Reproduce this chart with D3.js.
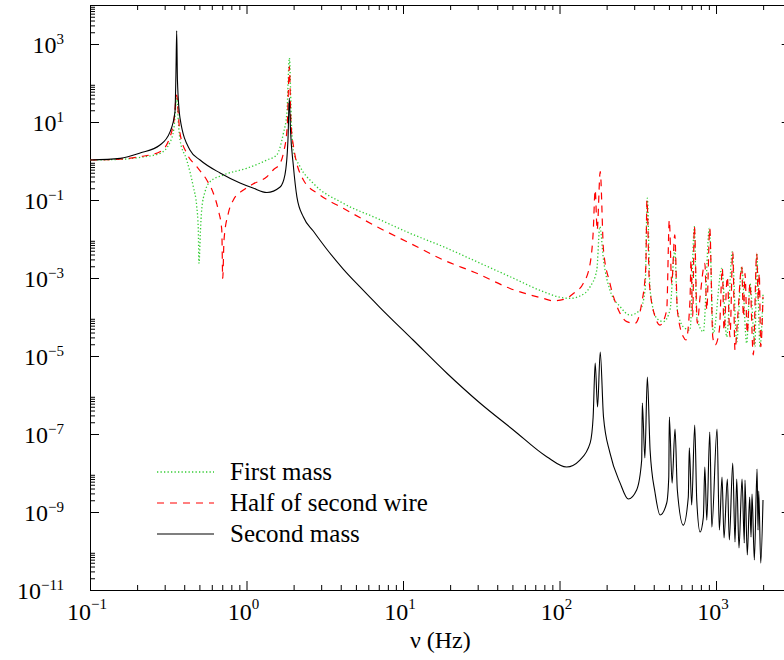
<!DOCTYPE html>
<html>
<head>
<meta charset="utf-8">
<title></title>
<style>
body { margin: 0; background: #fff; }
</style>
</head>
<body>
<svg id="chart" width="784" height="660"></svg>
<script src="https://d3js.org/d3.v7.min.js" charset="utf-8"></script>
<script>
// values: [frequency (Hz), amplitude]
var firstMass = [
  [0.1,1.06],[0.155,1.10],[0.209,1.24],[0.28,1.57],[0.325,3.07],[0.344,7.0],[0.358,41],[0.368,8.4],
  [0.376,3.45],[0.415,1.06],[0.457,0.219],[0.481,0.0673],[0.492,0.017],[0.497,0.00238],[0.508,0.017],
  [0.517,0.0554],[0.543,0.163],[0.585,0.294],[0.711,0.438],[1.0,0.65],[1.35,1.06],[1.56,1.43],
  [1.72,5.13],[1.81,16.7],[1.88,438],[1.94,7.57],[1.99,1.91],[2.20,0.714],[2.67,0.268],[4.15,0.0822],
  [6.80,0.034],[11.1,0.014],[18.1,0.00635],[29.6,0.00262],[48.3,0.00108],[78.8,4.45e-4],[101,3.2e-4],
  [117,3.0e-4],[135,3.45e-4],[157,6.0e-4],[173,0.0016],[181,0.0207],[191,0.0029],[210,4.9e-4],
  [244,1.84e-4],[282,1.12e-4],[327,1.51e-4],[352,4.9e-4],[364,0.111],[379,4.9e-4],[418,9.3e-5],
  [461,7.6e-5],[508,1.51e-4],[545,0.0052],[566,1.51e-4],[618,5.6e-5],[682,4.6e-5],[727,0.0207],
  [753,1.02e-4],[830,4.2e-5],[906,0.0188],[961,3.8e-5],[1088,0.00177],[1170,3.1e-5],[1270,0.0047],
  [1356,2.3e-5],[1459,0.00195],[1570,2.1e-5],[1648,7.3e-4],[1774,1.73e-5],[1820,0.0043],[1910,1.73e-5],
  [1996,3.7e-4]
];

var halfWire = [
  [0.1,1.06],[0.155,1.12],[0.209,1.29],[0.28,1.73],[0.325,4.2],[0.344,11.2],[0.358,49],[0.368,12.7],
  [0.376,5.13],[0.415,1.58],[0.481,0.714],[0.557,0.326],[0.614,0.149],[0.66,0.0554],[0.695,0.017],
  [0.705,9.8e-4],[0.718,0.0094],[0.765,0.0456],[0.824,0.1],[0.955,0.18],[1.10,0.257],[1.35,0.396],
  [1.48,0.588],[1.64,0.873],[1.72,1.58],[1.82,7.57],[1.88,262],[1.92,11.2],[1.99,2.57],[2.31,0.326],
  [2.95,0.134],[4.15,0.0612],[6.80,0.0207],[11.1,0.00776],[18.1,0.0029],[29.6,0.00132],[48.3,5.4e-4],
  [78.8,3.0e-4],[91.3,2.6e-4],[111,3.0e-4],[123,4.05e-4],[142,7.3e-4],[157,0.00238],[164,0.014],
  [169,0.18],[174,0.017],[182,0.532],[191,0.0052],[210,7.3e-4],[238,1.51e-4],[269,7.6e-5],[304,6.9e-5],
  [335,2.25e-4],[356,0.00195],[362,0.1],[375,7.3e-4],[408,1.02e-4],[439,6.2e-5],[484,1.51e-4],
  [503,0.0307],[521,7.3e-4],[545,0.0127],[566,1.51e-4],[618,3.1e-5],[643,2.57e-5],[682,2.73e-4],
  [692,0.0029],[709,1.02e-4],[727,0.0207],[759,6.9e-5],[791,3.3e-4],[848,0.00238],[873,1.51e-4],
  [912,0.0188],[953,3.1e-5],[986,1.91e-5],[1050,4.6e-5],[1097,0.00177],[1125,4.6e-5],[1181,0.00108],
  [1228,3.1e-5],[1279,0.0047],[1322,1.43e-5],[1376,1.02e-4],[1459,0.00195],[1496,1.02e-4],
  [1531,0.00132],[1584,3.8e-5],[1648,7.3e-4],[1730,1.06e-5],[1820,0.0043],[1862,2.73e-4],
  [1889,0.00132],[1931,1.73e-5],[1996,3.3e-4]
];

var secondMass = [
  [0.1,1.06],[0.156,1.17],[0.209,1.6],[0.28,2.57],[0.324,5.5],[0.349,18],[0.354,160],[0.358,2190],
  [0.362,119],[0.376,12.6],[0.435,1.91],[0.505,1.06],[0.678,0.492],[0.909,0.273],[1.10,0.203],
  [1.35,0.156],[1.64,0.215],[1.76,0.44],[1.84,3.45],[1.877,41],[1.91,6.2],[1.99,0.79],[2.10,0.119],
  [2.31,0.0366],[2.67,0.016],[3.25,0.00555],[4.15,0.0017],[5.31,5.9e-4],[7.13,1.75e-4],[11.6,2.57e-5],
  [19.0,3.67e-6],[31.0,6.24e-7],[50.7,1.27e-7],[82.8,2.62e-8],[111,1.43e-8],[135,2.15e-8],[157,5.9e-8],
  [164,2.73e-7],[169,6.6e-6],[175,4.92e-7],[182,1.27e-5],[191,2.73e-7],[210,3.26e-8],[244,5.5e-9],
  [275,2.15e-9],[311,3.67e-9],[335,2.15e-8],[338,6.24e-7],[351,2.43e-8],[364,2.9e-6],[379,3.9e-8],
  [408,3.07e-9],[439,8.4e-10],[484,1.7e-9],[499,7.9e-9],[503,2.73e-7],[524,5.5e-9],[547,1.34e-7],
  [566,3.67e-9],[618,4.6e-10],[665,2.43e-9],[675,4.4e-8],[699,1.51e-9],[731,1.7e-7],[753,2.03e-9],
  [791,3.07e-10],[830,7.4e-10],[848,1.43e-8],[873,6.2e-10],[912,1.12e-7],[940,4.1e-10],[1015,1.34e-7],
  [1050,3.45e-10],[1092,7.9e-9],[1125,2.15e-10],[1181,7.0e-9],[1216,1.91e-10],[1279,1.8e-8],
  [1322,1.7e-10],[1356,7.0e-9],[1402,1.19e-10],[1466,7.0e-9],[1516,1.6e-10],[1531,6.6e-9],
  [1584,7.9e-11],[1641,2.43e-9],[1674,2.28e-10],[1698,2.9e-9],[1757,5.9e-11],[1829,1.27e-8],
  [1855,3.45e-10],[1874,3.45e-9],[1931,4.9e-11],[1996,2.03e-9]
];

var xMajor = [0.1, 1, 10, 100, 1000];
var yMajor = [1e-11, 1e-9, 1e-7, 1e-5, 1e-3, 1e-1, 1e1, 1e3];
var legendNames = ["First mass", "Half of second wire", "Second mass"];
var xTitle = "\u03bd (Hz)";

var serif = "'Liberation Serif', 'Times New Roman', 'DejaVu Serif', serif";

// minor ticks: 2..9 in every decade (x), 2..9 above each labelled decade (y)
var xMinor = [];
xMajor.forEach(function(d){ for (var k = 2; k <= 9; k++) if (d * k <= 3000) xMinor.push(d * k); });
var yMinor = [];
yMajor.forEach(function(d){ for (var k = 2; k <= 9; k++) yMinor.push(d * k); });

var L = 90, R = 790.7, T = 5, B = 590;
var x = d3.scaleLog().domain([0.1, 3000]).range([L, R]);
var y = d3.scaleLog().domain([1e-11, 1e4]).range([B, T]);

var svg = d3.select("#chart");

function drawAxis(axis, tr, values, size, keepDomain) {
  var g = svg.append("g").attr("transform", tr)
    .call(axis.tickValues(values).tickSizeInner(-size).tickSizeOuter(0).tickFormat(""));
  g.selectAll("text").remove();
  g.selectAll("line").attr("stroke", "#000");
  if (!keepDomain) g.select(".domain").remove();
  else g.select(".domain").attr("stroke", "#000");
  return g;
}

drawAxis(d3.axisBottom(x), "translate(0," + B + ")", xMajor, 9, true);
drawAxis(d3.axisBottom(x), "translate(0," + B + ")", xMinor, 5, false);
drawAxis(d3.axisTop(x), "translate(0," + T + ")", xMajor, 9, true);
drawAxis(d3.axisTop(x), "translate(0," + T + ")", xMinor, 5, false);
drawAxis(d3.axisLeft(y), "translate(" + L + ",0)", yMajor, 9, true);
drawAxis(d3.axisLeft(y), "translate(" + L + ",0)", yMinor, 5, false);
drawAxis(d3.axisRight(y), "translate(" + R + ",0)", yMajor, 9, true);
drawAxis(d3.axisRight(y), "translate(" + R + ",0)", yMinor, 5, false);

function expOf(d) {
  var e = Math.round(Math.log10(d));
  return e < 0 ? "\u2212" + (-e) : "" + e;
}

// tick labels 10^n
var xl = svg.append("g").selectAll("text").data(xMajor).enter().append("text")
  .attr("x", function(d){ return x(d) - 3; })
  .attr("y", 620)
  .attr("text-anchor", "middle")
  .style("font-family", serif)
  .style("font-size", "24px");
xl.append("tspan").text("10");
xl.append("tspan").attr("dy", -11).style("font-size", "15px").text(expOf);

var yl = svg.append("g").selectAll("text").data(yMajor).enter().append("text")
  .attr("x", 64)
  .attr("y", function(d){ return y(d) + 9; })
  .attr("text-anchor", "end")
  .style("font-family", serif)
  .style("font-size", "24px");
yl.append("tspan").text("10");
yl.append("tspan").attr("dy", -9).style("font-size", "15px").text(expOf);

svg.append("text")
  .attr("x", (L + R) / 2)
  .attr("y", 648)
  .attr("text-anchor", "middle")
  .style("font-family", serif)
  .style("font-size", "24px")
  .text(xTitle);

// curves
var line = d3.line()
  .x(function(d){ return x(d[0]); })
  .y(function(d){ return y(d[1]); })
  .curve(d3.curveMonotoneX);

var styles = [
  { data: firstMass, color: "#33cc33", dash: "1.3,2.2", width: 1.3 },
  { data: halfWire, color: "#ff0000", dash: "7,6", width: 1.2 },
  { data: secondMass, color: "#000000", dash: null, width: 1.1 }
];

styles.forEach(function(s){
  svg.append("path")
    .datum(s.data)
    .attr("d", line)
    .attr("fill", "none")
    .attr("stroke", s.color)
    .attr("stroke-width", s.width)
    .attr("stroke-dasharray", s.dash);
});

// legend
var lg = svg.append("g").selectAll("g").data(styles).enter().append("g")
  .attr("transform", function(d, i){ return "translate(0," + (472 + i * 31) + ")"; });
lg.append("line")
  .attr("x1", 157).attr("x2", 214)
  .attr("stroke", function(d){ return d.color; })
  .attr("stroke-width", function(d){ return d.width; })
  .attr("stroke-dasharray", function(d){ return d.dash; });
lg.append("text")
  .attr("x", 230).attr("y", 8)
  .style("font-family", serif)
  .style("font-size", "25px")
  .text(function(d, i){ return legendNames[i]; });
</script>
</body>
</html>
